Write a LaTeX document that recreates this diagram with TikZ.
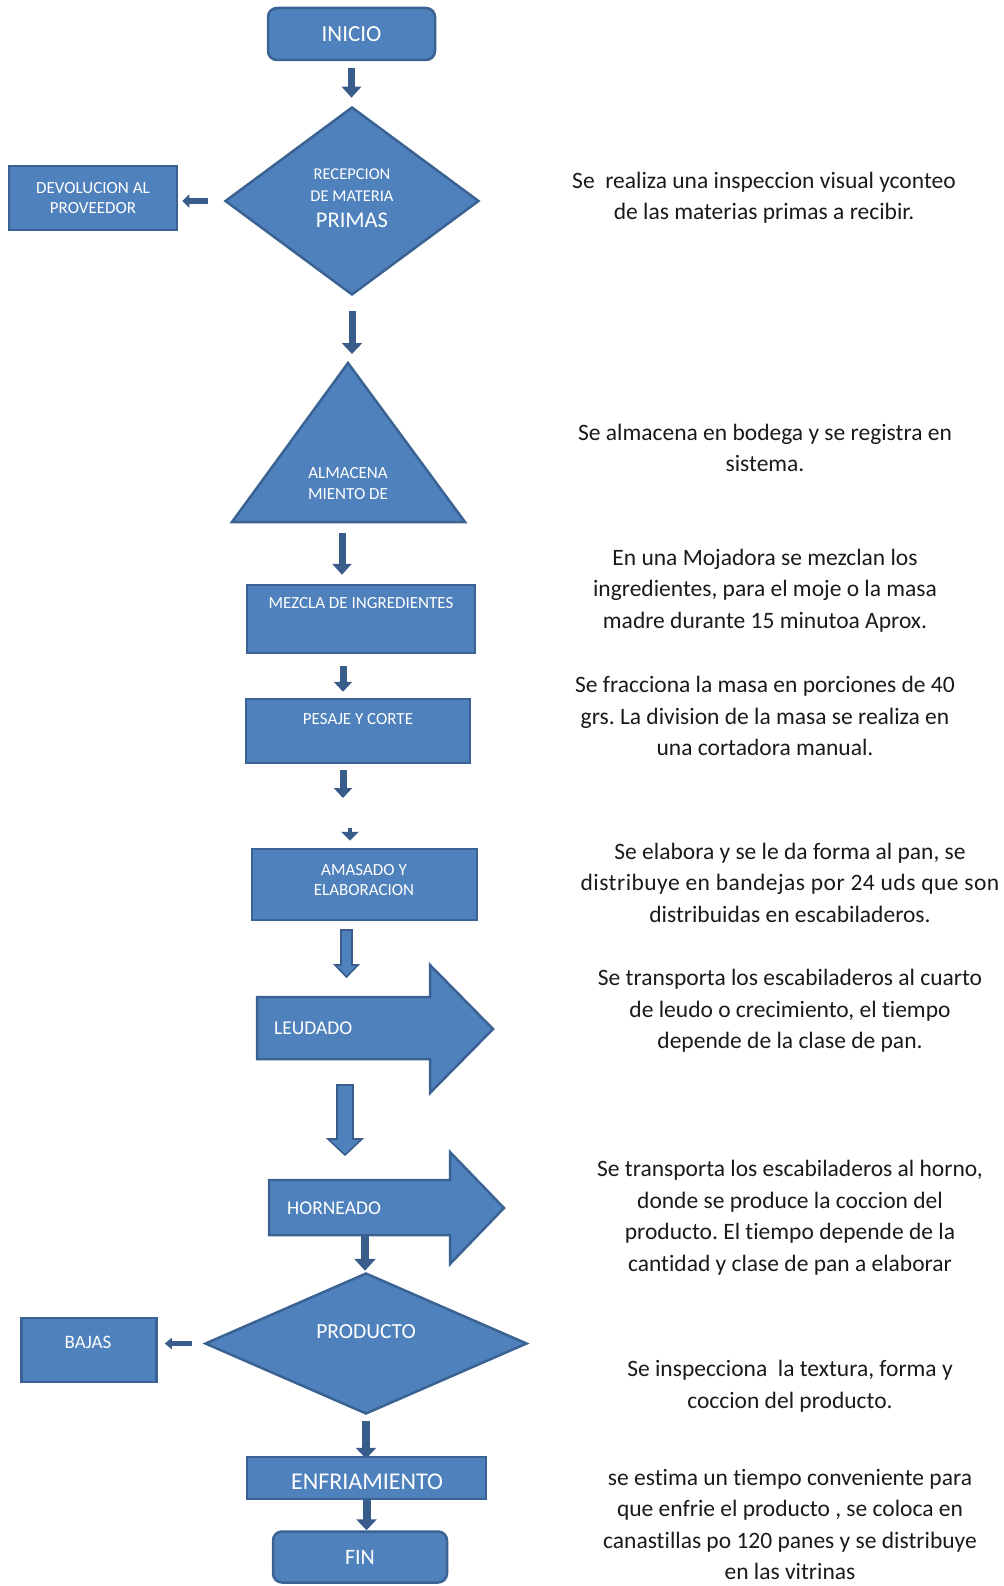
\documentclass[tikz,border=0pt]{standalone}
\usepackage{fontspec}
\setmainfont{Carlito}[Ligatures=NoCommon]
\usetikzlibrary{shapes.geometric,arrows.meta,backgrounds}
\frenchspacing

\definecolor{boxfill}{HTML}{4F81BD}
\definecolor{boxline}{HTML}{3A6293}
\definecolor{arrowc}{HTML}{385D8A}
\definecolor{notec}{HTML}{1A1A1A}

\tikzset{
  shapebox/.style={draw=boxline, fill=boxfill, line width=2.5pt, inner sep=0pt, text=white},
  procbox/.style={shapebox, rectangle},
  termbox/.style={shapebox, rectangle, rounded corners=9pt},
  decision/.style={shapebox, diamond},
  lbl/.style={text=white, inner sep=0pt, align=center},
  smallcaps/.style={font=\fontsize{17}{20.5}\selectfont},
  notetext/.style={text=notec, inner sep=0pt, align=center, font=\fontsize{23.5}{31.5}\selectfont},
  flow/.style n args={3}{draw=arrowc, line width=#1, -{Triangle[width=#2, length=#3]}},
  blockarrow/.style={draw=arrowc, fill=boxfill, line width=1.6pt, line join=miter},
}

\begin{document}
\begin{tikzpicture}[x=1pt, y=-1pt]
\useasboundingbox (0,0) rectangle (1003,1586);

% ---------- flow shapes ----------
\node[termbox, minimum width=167pt, minimum height=52pt, font=\fontsize{23}{26}\selectfont]
  (inicio) at (351.5,34) {INICIO};

\node[decision, minimum width=254pt, minimum height=188pt] (recep) at (352,201) {};
\node[lbl, anchor=base, font=\fontsize{16.5}{20}\selectfont] (recep-l1) at (352,179.5) {RECEPCION};
\node[lbl, anchor=base, font=\fontsize{16.5}{20}\selectfont] (recep-l2) at (352,201.5) {DE MATERIA};
\node[lbl, anchor=base, font=\fontsize{22.5}{26}\selectfont] (recep-l3) at (352,228) {PRIMAS};

\node[procbox, minimum width=168pt, minimum height=64pt, smallcaps, align=center]
  (devol) at (93,198) {DEVOLUCION AL\\PROVEEDOR};

% storage triangle
\draw[draw=boxline, fill=boxfill, line width=2.5pt] (348,363) -- (465,522) -- (232,522) -- cycle;
\coordinate (alm-top) at (348,363);
\coordinate (alm-base) at (342,522);
\node[lbl, smallcaps] (alm) at (348,483.5) {ALMACENA\\MIENTO DE};

\node[procbox, minimum width=228pt, minimum height=68pt] (mezcla) at (361,619) {};
\node[lbl, smallcaps] (mezcla-t) at (361,603) {MEZCLA DE INGREDIENTES};

\node[procbox, minimum width=224pt, minimum height=64pt] (pesaje) at (358,731) {};
\node[lbl, smallcaps] (pesaje-t) at (358,719) {PESAJE Y CORTE};

\node[procbox, minimum width=225pt, minimum height=71pt] (amasado) at (364.5,884.5) {};
\node[lbl, smallcaps] (amasado-t) at (364,880) {AMASADO Y\\ELABORACION};

% block arrows
\draw[draw=boxline, fill=boxfill, line width=2.5pt]
  (257,997) -- (430,997) -- (430,965) -- (493,1029) -- (430,1093) -- (430,1059) -- (257,1059) -- cycle;
\coordinate (leu-top) at (345,997);
\coordinate (leu-bot) at (345,1059);
\node[lbl, anchor=west, font=\fontsize{19.5}{23}\selectfont] (leudado) at (274,1028) {LEUDADO};

\draw[draw=boxline, fill=boxfill, line width=2.5pt]
  (269,1180) -- (450,1180) -- (450,1152) -- (504,1208) -- (450,1264) -- (450,1235) -- (269,1235) -- cycle;
\coordinate (horn-top) at (345,1180);
\coordinate (horn-bot) at (365,1235);
\node[lbl, anchor=west, font=\fontsize{19.5}{23}\selectfont] (horneado) at (287,1208) {HORNEADO};

\node[decision, minimum width=322pt, minimum height=141pt] (producto) at (366,1343.5) {};
\node[lbl, font=\fontsize{21.5}{25}\selectfont] (producto-t) at (366,1332) {PRODUCTO};

\node[procbox, minimum width=135pt, minimum height=64pt] (bajas) at (89,1350) {};
\node[lbl, font=\fontsize{19}{22}\selectfont] (bajas-t) at (88,1342) {BAJAS};

\node[procbox, minimum width=239pt, minimum height=42pt] (enfria) at (366.5,1478) {};
\node[lbl, font=\fontsize{24}{27}\selectfont] (enfria-t) at (367,1482) {ENFRIAMIENTO};

\node[termbox, minimum width=174pt, minimum height=51pt, font=\fontsize{22}{25}\selectfont]
  (fin) at (360,1557) {FIN};

% waypoints of the broken link between PESAJE and AMASADO
\coordinate (pausa) at (343,798);
\coordinate (reanuda) at (350,828);
% start points of the outlined block connectors
\coordinate (amasado-out) at (346.5,930);
\coordinate (leudado-out) at (345,1085);

% ---------- connectors ----------
\begin{pgfonlayer}{background}
\draw[flow={7pt}{19pt}{11pt}, shorten <=7pt, shorten >=8pt] (inicio.south) -- (inicio.south |- recep.north);
\draw[flow={6pt}{13pt}{7pt}, shorten <=16pt, shorten >=4pt] (recep.west) -- (recep.west -| devol.east);
\draw[flow={7pt}{20pt}{11pt}, shorten <=15pt, shorten >=9pt] (recep.south) -- (recep.south |- alm-top);
\draw[flow={7pt}{19pt}{11pt}, shorten <=11pt, shorten >=9pt] (alm-base) -- (alm-base |- mezcla.north);
\draw[flow={7pt}{18pt}{10pt}, shorten <=12pt, shorten >=6pt] ([xshift=-18pt]mezcla.south) -- ([xshift=-18pt]mezcla.south |- pesaje.north);
\draw[flow={7pt}{18pt}{10pt}, shorten <=6pt] ([xshift=-15pt]pesaje.south) -- (pausa);
\draw[flow={4pt}{17pt}{9pt}, shorten >=7pt] (reanuda) -- (reanuda |- amasado.north);
\draw[flow={8pt}{21pt}{12pt}, shorten >=1pt] (horn-bot) -- (horn-bot |- producto.north);
\draw[flow={5pt}{11pt}{7pt}, shorten <=12pt, shorten >=7pt] (producto.west) -- (producto.west -| bajas.east);
\draw[flow={8pt}{20pt}{11pt}, shorten <=6pt, shorten >=-3pt] (producto.south) -- (producto.south |- enfria.north);
\draw[flow={8pt}{20pt}{11pt}] (enfria.south) -- (enfria.south |- fin.north);
\end{pgfonlayer}

% outlined block connectors: AMASADO -> LEUDADO -> HORNEADO
\begin{scope}[shift={(amasado-out)}]
  \draw[blockarrow] (-5.5,0) -- (5.5,0) -- (5.5,35) -- (11.5,35) -- (0,47) -- (-11.5,35) -- (-5.5,35) -- cycle;
\end{scope}
\begin{scope}[shift={(leudado-out)}]
  \draw[blockarrow] (-8,0) -- (8,0) -- (8,54) -- (17,54) -- (0,70) -- (-17,54) -- (-8,54) -- cycle;
\end{scope}

% ---------- descriptions ----------
\node[notetext] (nota1) at (764,197.5) {Se\ \ realiza una inspeccion visual yconteo\\de las materias primas a recibir.};
\node[notetext] (nota2) at (765,448) {Se almacena en bodega y se registra en\\sistema.};
\node[notetext] (nota3) at (765,590.5) {En una Mojadora se mezclan los\\ingredientes, para el moje o la masa\\madre durante 15 minutoa Aprox.};
\node[notetext] (nota4) at (765,716) {Se fracciona la masa en porciones de 40\\grs. La division de la masa se realiza en\\una cortadora manual.};
\node[notetext] (nota5) at (790,882.5) {Se elabora y se le da forma al pan, se\\{\addfontfeature{LetterSpace=2}distribuye en bandejas por 24 uds que son}\\distribuidas en escabiladeros.};
\node[notetext] (nota6) at (790,1011) {Se transporta los escabiladeros al cuarto\\de leudo o crecimiento, el tiempo\\depende de la clase de pan.};
\node[notetext] (nota7) at (790,1217.5) {Se transporta los escabiladeros al horno,\\donde se produce la coccion del\\producto. El tiempo depende de la\\cantidad y clase de pan a elaborar};
\node[notetext] (nota8) at (790,1386) {Se inspecciona\ \ la textura, forma y\\coccion del producto.};
\node[notetext] (nota9) at (790,1524.5) {se estima un tiempo conveniente para\\que enfrie el producto , se coloca en\\canastillas po 120 panes y se distribuye\\en las vitrinas};
\end{tikzpicture}
\end{document}
